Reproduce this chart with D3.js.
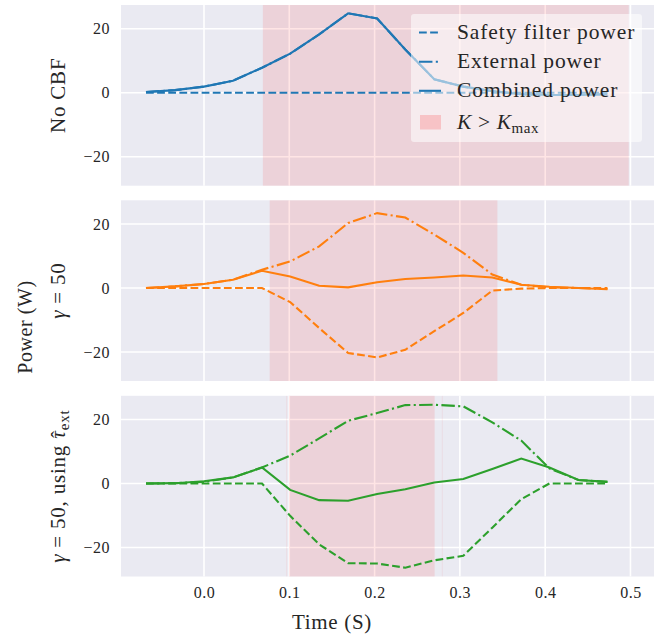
<!DOCTYPE html>
<html><head><meta charset="utf-8">
<script src="https://cdn.jsdelivr.net/npm/d3@7"></script>
<style>body{margin:0;background:#fff}svg{display:block}</style>
</head><body><svg id="c" width="672" height="637"></svg>
<script>
// ---- data ----
const time = [-0.068, -0.034, 0.000, 0.034, 0.068, 0.101, 0.135, 0.169, 0.203, 0.236, 0.270, 0.304, 0.338, 0.372, 0.405, 0.439, 0.473];

const noCbfSafety   = [0,0,0,0,0,0,0,0,0,0,0,0,0,0,0,0,0];
const noCbfExternal = [0.2, 0.8, 1.9, 3.75, 7.8, 12.2, 18.2, 24.8, 23.2, 13.5, 4.2, 1.9, 0.5, -0.5, -0.7, -0.7, -0.5];
const noCbfCombined = [0.2, 0.8, 1.9, 3.75, 7.8, 12.2, 18.2, 24.8, 23.2, 13.5, 4.2, 1.9, 0.5, -0.5, -0.7, -0.7, -0.5];

const g50Safety   = [0, 0, 0, 0, 0, -4.4, -12.5, -20.3, -21.7, -19.3, -13.5, -7.8, -0.8, -0.2, 0, 0, 0];
const g50External = [0, 0.5, 1.25, 2.6, 5.7, 8.3, 13.0, 20.3, 23.4, 22.0, 16.7, 11.0, 4.2, 1.0, 0.2, 0, -0.3];
const g50Combined = [0, 0.5, 1.25, 2.6, 5.4, 3.6, 0.7, 0.2, 1.8, 2.8, 3.3, 3.9, 3.3, 1.0, 0.4, 0, -0.4];

const g50hSafety   = [0, 0, 0, 0, 0, -10.1, -19.0, -24.9, -25.0, -26.3, -24.0, -22.6, -13.8, -4.9, 0, 0, 0];
const g50hExternal = [0, 0.1, 0.5, 1.9, 5.0, 8.7, 14.1, 19.6, 22.0, 24.5, 24.6, 24.1, 19.1, 13.4, 4.7, 1.1, 0.5];
const g50hCombined = [0, 0.1, 0.7, 1.9, 5.0, -2.0, -5.2, -5.4, -3.3, -1.8, 0.3, 1.4, 4.5, 7.8, 5.0, 1.1, 0.5];

const spansNoCbf = [[0.069, 0.498]];
const spansG50   = [[0.077, 0.344]];
const spansG50h  = [[0.0965, 0.0975], [0.0997, 0.2704], [0.2788, 0.2798]];

const xTicks = [0.0, 0.1, 0.2, 0.3, 0.4, 0.5];
const yTicks = [-20, 0, 20];
const legendLabels = ["Safety filter power", "External power", "Combined power"];

// ---- layout ----
const panels = [
  {safety: noCbfSafety, external: noCbfExternal, combined: noCbfCombined, spans: spansNoCbf, color: "#1f77b4"},
  {safety: g50Safety, external: g50External, combined: g50Combined, spans: spansG50, color: "#ff7f0e"},
  {safety: g50hSafety, external: g50hExternal, combined: g50hCombined, spans: spansG50h, color: "#2ca02c"}
];
const svg = d3.select("#c");
const font = "'Liberation Serif', 'Times New Roman', serif";
const textCol = "#262626";
const left = 121, right = 654, panelH = 180.7;
const tops = [5, 200.3, 395.8];
const lw = 2.1;
const dashStyle = `${3.7*lw},${1.6*lw}`;
const dashDot = `${6.4*lw},${1.6*lw},${1*lw},${1.6*lw}`;
const x = d3.scaleLinear().domain([-0.0973, 0.5276]).range([left, right]);

panels.forEach((p, i) => {
  const top = tops[i];
  const y = d3.scaleLinear().domain([-29.06, 27.4]).range([top + panelH, top]);
  const g = svg.append("g");
  g.append("rect").attr("x", left).attr("y", top).attr("width", right - left).attr("height", panelH).attr("fill", "#EAEAF2");
  g.selectAll(".vg").data(xTicks).join("line")
    .attr("x1", d => x(d)).attr("x2", d => x(d)).attr("y1", top).attr("y2", top + panelH)
    .attr("stroke", "#fff").attr("stroke-width", 1.6);
  g.selectAll(".hg").data(yTicks).join("line")
    .attr("x1", left).attr("x2", right).attr("y1", d => y(d)).attr("y2", d => y(d))
    .attr("stroke", "#fff").attr("stroke-width", 1.6);
  g.selectAll(".sp").data(p.spans).join("rect")
    .attr("x", d => x(d[0])).attr("width", d => Math.max(0.8, x(d[1]) - x(d[0])))
    .attr("y", top).attr("height", panelH)
    .attr("fill", "#ff0000").attr("fill-opacity", d => (d[1]-d[0] < 0.002 ? 0.07 : 0.1));
  const ya = g.append("g").attr("transform", `translate(${left},0)`)
    .call(d3.axisLeft(y).tickValues(yTicks).tickSize(0).tickPadding(11).tickFormat(d => d < 0 ? "\u2212" + Math.abs(d) : String(d)));
  ya.select(".domain").remove();
  ya.selectAll("text").attr("font-family", font).attr("font-size", 16).attr("fill", textCol).attr("letter-spacing", 0.5);
  if (i === 2) {
    const xa = g.append("g").attr("transform", `translate(0,${top + panelH})`)
      .call(d3.axisBottom(x).tickValues(xTicks).tickSize(0).tickPadding(10).tickFormat(d3.format(".1f")));
    xa.select(".domain").remove();
    xa.selectAll("text").attr("font-family", font).attr("font-size", 16).attr("fill", textCol).attr("letter-spacing", 0.5);
  }
  const line = d3.line().x((d, k) => x(time[k])).y(d => y(d));
  g.append("path").datum(p.safety).attr("d", line).attr("fill", "none").attr("stroke", p.color)
    .attr("stroke-width", lw).attr("stroke-dasharray", dashStyle);
  g.append("path").datum(p.external).attr("d", line).attr("fill", "none").attr("stroke", p.color)
    .attr("stroke-width", lw).attr("stroke-dasharray", dashDot);
  g.append("path").datum(p.combined).attr("d", line).attr("fill", "none").attr("stroke", p.color)
    .attr("stroke-width", lw);
});

// row labels
function rowLabel(cy, build) {
  const t = svg.append("text").attr("transform", `translate(65,${cy}) rotate(-90)`)
    .attr("text-anchor", "middle").attr("font-family", font).attr("font-size", 21)
    .attr("letter-spacing", 0.8).attr("fill", textCol);
  build(t);
}
rowLabel(tops[0] + panelH/2, t => t.text("No CBF"));
rowLabel(tops[1] + panelH/2, t => {
  t.append("tspan").attr("font-style", "italic").text("\u03B3");
  t.append("tspan").text(" = 50");
});
rowLabel(tops[2] + panelH/2, t => {
  t.append("tspan").attr("font-style", "italic").text("\u03B3");
  t.append("tspan").text(" = 50, using ");
  t.append("tspan").attr("font-style", "italic").text("\u03C4");
  t.append("tspan").attr("dx", -7.5).attr("dy", 1).text("\u02C6");
  t.append("tspan").attr("font-size", 15).attr("dx", 0).attr("dy", 3).text("ext");
});
svg.append("text").attr("transform", `translate(32,327) rotate(-90)`).attr("text-anchor", "middle")
  .attr("font-family", font).attr("font-size", 20).attr("letter-spacing", 0.6).attr("fill", textCol).text("Power (W)");
svg.append("text").attr("x", 332).attr("y", 629).attr("text-anchor", "middle")
  .attr("font-family", font).attr("font-size", 21).attr("letter-spacing", 0.7).attr("fill", textCol).text("Time (S)");

// legend
const lg = svg.append("g");
lg.append("rect").attr("x", 411).attr("y", 14).attr("width", 231).attr("height", 128).attr("rx", 3)
  .attr("fill", "#ffffff").attr("fill-opacity", 0.55);
const rowsY = [32.5, 61.7, 90.8];
const styles = [dashStyle, dashDot, null];
legendLabels.forEach((lab, k) => {
  const l = lg.append("line").attr("x1", 419).attr("x2", 441).attr("y1", rowsY[k]).attr("y2", rowsY[k])
    .attr("stroke", "#1f77b4").attr("stroke-width", lw);
  if (styles[k]) l.attr("stroke-dasharray", styles[k]);
  lg.append("text").attr("x", 457).attr("y", rowsY[k] + 6.5).attr("font-family", font).attr("font-size", 21.5)
    .attr("letter-spacing", 0.9).attr("fill", textCol).text(lab);
});
lg.append("rect").attr("x", 420).attr("y", 115).attr("width", 21).attr("height", 14.5)
  .attr("fill", "#ff0000").attr("fill-opacity", 0.17);
const kt = lg.append("text").attr("x", 457).attr("y", 129).attr("font-family", font).attr("font-size", 21.5)
  .attr("letter-spacing", 0.6).attr("fill", textCol);
kt.append("tspan").attr("font-style", "italic").text("K");
kt.append("tspan").text(" > ");
kt.append("tspan").attr("font-style", "italic").text("K");
kt.append("tspan").attr("font-size", 15).attr("dy", 4).text("max");
</script></body></html>
